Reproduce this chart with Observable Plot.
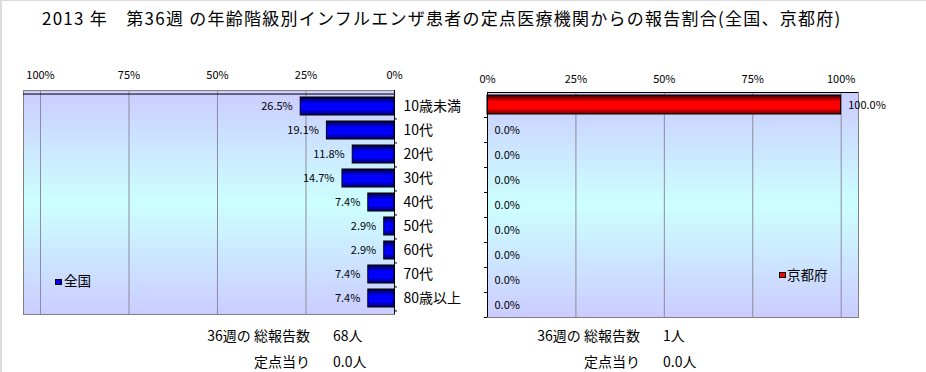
<!DOCTYPE html>
<html><head><meta charset="utf-8">
<script src="https://cdn.jsdelivr.net/npm/d3@7"></script>
<script src="https://cdn.jsdelivr.net/npm/@observablehq/plot@0.6"></script>
<style>
html,body{margin:0;padding:0;background:#fff;}
#root{position:relative;width:926px;height:372px;overflow:hidden;font-family:"Noto Sans CJK JP",sans-serif;color:#000;background:#fff;}
.t{position:absolute;white-space:nowrap;line-height:1;}
.sw{position:absolute;border:1px solid #000;box-sizing:border-box;}
</style></head><body><div id="root"></div>
<script>
const title = "2013 年　第36週 の年齢階級別インフルエンザ患者の定点医療機関からの報告割合(全国、京都府)";
const categories = ["10歳未満","10代","20代","30代","40代","50代","60代","70代","80歳以上"];
const nationalValues = [26.5,19.1,11.8,14.7,7.4,2.9,2.9,7.4,7.4];
const kyotoValues = [100.0,0.0,0.0,0.0,0.0,0.0,0.0,0.0,0.0];
const tickValues = [0,25,50,75,100];
const seriesNames = ["全国","京都府"];
const summaryLabels = ["36週の 総報告数","定点当り"];
const nationalSummary = ["68人","0.0人"];
const kyotoSummary = ["1人","0.0人"];

const root = document.getElementById("root");
const FONT = "'Noto Sans CJK JP', sans-serif";

function addText(txt, x, y, size, anchor, extra) {
  const d = document.createElement("div");
  d.className = "t";
  d.textContent = txt;
  d.style.fontSize = size + "px";
  d.style.top = (y - size / 2) + "px";
  if (anchor === "end") { d.style.right = (926 - x) + "px"; } else { d.style.left = x + "px"; }
  if (extra) Object.assign(d.style, extra);
  root.appendChild(d);
  return d;
}

function defsMark(bgId, barId, dark, mid, dark2) {
  return () => {
    const defs = d3.create("svg:defs");
    const bg = defs.append("linearGradient").attr("id", bgId).attr("x1", 0).attr("y1", 0).attr("x2", 0).attr("y2", 1);
    bg.append("stop").attr("offset", 0).attr("stop-color", "#ccccff");
    bg.append("stop").attr("offset", 0.5).attr("stop-color", "#ccffff");
    bg.append("stop").attr("offset", 1).attr("stop-color", "#ccccff");
    const bar = defs.append("linearGradient").attr("id", barId).attr("x1", 0).attr("y1", 0).attr("x2", 0).attr("y2", 1);
    bar.append("stop").attr("offset", 0).attr("stop-color", dark);
    bar.append("stop").attr("offset", 0.35).attr("stop-color", mid);
    bar.append("stop").attr("offset", 0.7).attr("stop-color", mid);
    bar.append("stop").attr("offset", 1).attr("stop-color", dark2);
    return defs.node();
  };
}

function panel(cfg) {
  const data = categories.map((c, i) => ({c, v: cfg.values[i]}));
  const frameH = cfg.H - cfg.mT - cfg.mB;
  const step = frameH / categories.length;
  const pxPerUnit = (cfg.W - cfg.mL - cfg.mR) / cfg.maxDomain;
  const bounds = categories.map(c => ({c, a: 0, b: -3 / pxPerUnit}));
  const marks = [
    defsMark(cfg.bgId, cfg.barId, cfg.dark, cfg.mid, cfg.dark2),
    Plot.frame({fill: `url(#${cfg.bgId})`, stroke: "#808080"}),
    Plot.ruleX(tickValues.filter(v => v > 0), {stroke: "#8c8c98"}),
    Plot.barX(data, {y: "c", x1: 0, x2: "v", fill: `url(#${cfg.barId})`, stroke: "#000", strokeWidth: 1}),
    Plot.ruleX([0], {stroke: "#000"}),
    Plot.ruleY([categories[0]], {y: d => d, dy: -step / 2, stroke: "#000"}),
    Plot.ruleY(bounds, {y: "c", x1: "a", x2: "b", dy: step / 2, stroke: "#000"}),
    Plot.text(data, {x: "v", y: "c", text: d => d.v.toFixed(1) + "%", textAnchor: cfg.labelAnchor, dx: cfg.labelDx, fontSize: 11, fill: "#000"}),
    Plot.axisX({ticks: tickValues, anchor: "top", tickSize: 0, tickPadding: cfg.tickPad, tickFormat: d => d + "%", fontSize: 11, label: null})
  ];
  if (cfg.showY) marks.push(Plot.axisY({anchor: "right", tickSize: 0, tickPadding: 9, fontSize: 14, label: null}));
  const svg = Plot.plot({
    width: cfg.W, height: cfg.H,
    marginLeft: cfg.mL, marginRight: cfg.mR, marginTop: cfg.mT, marginBottom: cfg.mB,
    x: {domain: cfg.reverse ? [cfg.maxDomain, 0] : [0, cfg.maxDomain], label: null},
    y: {domain: categories, paddingInner: 0.24, paddingOuter: 0.12, axis: null, label: null},
    style: {fontFamily: FONT, fontSize: "11px", color: "#000", background: "transparent", overflow: "visible"},
    marks
  });
  svg.style.position = "absolute";
  svg.style.left = cfg.left + "px";
  svg.style.top = cfg.top + "px";
  root.appendChild(svg);
}

panel({values: nationalValues, reverse: true, maxDomain: 104.8, W: 470, H: 290, left: 0, top: 50,
  mL: 23, mR: 76, mT: 40, mB: 26, bgId: "bgL", barId: "barL", dark: "#000033", mid: "#0000ff", dark2: "#000066",
  labelAnchor: "end", labelDx: -8, tickPad: 12, showY: true});
panel({values: kyotoValues, reverse: false, maxDomain: 104.9, W: 456, H: 290, left: 470, top: 50,
  mL: 17, mR: 68, mT: 42, mB: 23, bgId: "bgR", barId: "barR", dark: "#330000", mid: "#ff0000", dark2: "#660000",
  labelAnchor: "start", labelDx: 7, tickPad: 10, showY: false});

// title
addText(title, 42, 17, 17, "start", {letterSpacing: "1.25px"});

// legends
function legend(name, color, sx, sy, tx, ty) {
  const s = document.createElement("div");
  s.className = "sw";
  Object.assign(s.style, {left: sx + "px", top: sy + "px", width: "7px", height: "6px", background: color});
  root.appendChild(s);
  addText(name, tx, ty, 13.5, "start");
}
legend(seriesNames[0], "#0000ff", 55, 279, 64, 281);
legend(seriesNames[1], "#ff0000", 779, 272, 787, 275);

// summary
const rowsY = [335, 361];
summaryLabels.forEach((lab, i) => {
  addText(lab, 310, rowsY[i], 14, "end");
  addText(nationalSummary[i], 333, rowsY[i], 14, "start");
  addText(lab, 640, rowsY[i], 14, "end");
  addText(kyotoSummary[i], 663, rowsY[i], 14, "start");
});

// outer border lines
const bl = document.createElement("div");
Object.assign(bl.style, {position: "absolute", left: "0px", top: "0px", width: "2px", height: "372px", background: "#dcdcdc"});
root.appendChild(bl);
const bt = document.createElement("div");
Object.assign(bt.style, {position: "absolute", left: "0px", top: "0px", width: "926px", height: "1px", background: "#dcdcdc"});
root.appendChild(bt);
</script></body></html>
